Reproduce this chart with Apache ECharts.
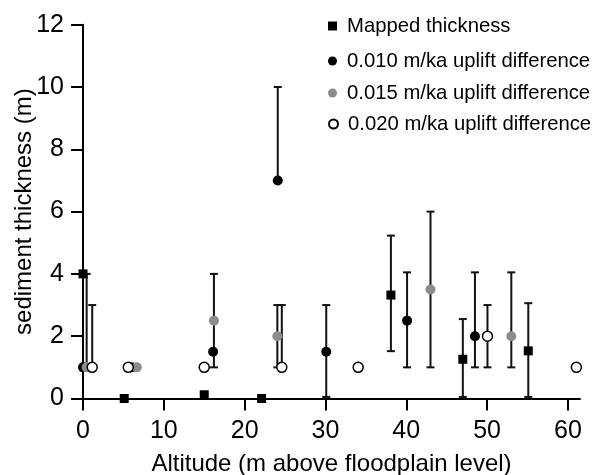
<!DOCTYPE html>
<html>
<head>
<meta charset="utf-8">
<script src="https://cdn.jsdelivr.net/npm/echarts@6/dist/echarts.min.js"></script>
<style>
  html, body { margin: 0; padding: 0; background: #fff; }
  #chart { width: 602px; height: 475px; }
</style>
</head>
<body>
<div id="chart"></div>
<script>
const FONT = '"Liberation Sans", Arial, sans-serif'

const xTicks = [0, 10, 20, 30, 40, 50, 60]
const seriesNames = [
  'Mapped thickness',
  '0.010 m/ka uplift difference',
  '0.015 m/ka uplift difference',
  '0.020 m/ka uplift difference',
]

// points: [altitude, thickness]
const mapped = [[0, 4], [5.1, 0], [15, 0.12], [22.1, 0], [38.1, 3.32], [47, 1.26], [55.1, 1.53]]
const uplift010 = [[0, 1], [6, 1], [16.1, 1.5], [24.1, 7], [30.1, 1.5], [40.1, 2.5], [48.5, 2]]
const uplift015 = [[0.45, 1], [6.66, 1], [16.2, 2.5], [24.05, 2], [43, 3.5], [53, 2]]
const uplift020 = [[1.14, 1], [5.6, 1], [15, 1], [24.6, 1], [34.05, 1], [50.05, 2], [61.05, 1]]

// error ranges: [altitude, low, high]
const mappedErr = [[38.1, 1.52, 5.23], [47, 0.05, 2.55], [55.1, 0.05, 3.06]]
const uplift010Err = [[24.1, 7, 10], [30.1, 0.05, 3], [40.1, 1, 4.05], [48.5, 1, 4.05]]
const uplift015Err = [[0.45, 1, 4], [16.2, 1, 4], [24.05, 1, 3], [43, 1, 6], [53, 1, 4.05]]
const uplift020Err = [[1.14, 1, 3], [24.6, 1, 3], [50.05, 1, 3]]

const pointData = [mapped, uplift010, uplift015, uplift020]
const errData = [mappedErr, uplift010Err, uplift015Err, uplift020Err]
const symbols = ['rect', 'circle', 'circle', 'circle']
const symbolSizes = [9, 10, 10, 10]
const fills = ['#000', '#000', '#8c8c8c', '#fff']
const borders = ['#000', '#000', '#8c8c8c', '#000']

const legendTops = [16, 51, 83, 114]

function errorBar(params, api) {
  const x = api.value(0)
  const lo = api.coord([x, api.value(1)])
  const hi = api.coord([x, api.value(2)])
  const cap = 4
  const style = { stroke: '#111', lineWidth: 2 }
  return {
    type: 'group',
    children: [
      { type: 'line', shape: { x1: lo[0], y1: lo[1], x2: hi[0], y2: hi[1] }, style },
      { type: 'line', shape: { x1: hi[0] - cap, y1: hi[1], x2: hi[0] + cap, y2: hi[1] }, style },
      { type: 'line', shape: { x1: lo[0] - cap, y1: lo[1], x2: lo[0] + cap, y2: lo[1] }, style },
    ],
  }
}

const axisLine = { show: true, lineStyle: { color: '#000', width: 2 } }
const axisTick = { show: true, inside: false, length: 12, lineStyle: { color: '#000', width: 2 } }

const chart = echarts.init(document.getElementById('chart'))

const series = []
errData.forEach((d) => {
  series.push({
    type: 'custom',
    renderItem: errorBar,
    data: d,
    encode: { x: 0, y: [1, 2] },
    z: 1,
    silent: true,
  })
})
pointData.forEach((d, i) => {
  series.push({
    name: seriesNames[i],
    type: 'scatter',
    data: d,
    symbol: symbols[i],
    symbolSize: symbolSizes[i],
    itemStyle: { color: fills[i], borderColor: borders[i], borderWidth: i === 3 ? 1.5 : 0, opacity: 1 },
    z: 2,
  })
})

chart.setOption({
  animation: false,
  backgroundColor: '#fff',
  grid: { left: 83, right: 22, top: 24.7, bottom: 76.5, containLabel: false, outerBoundsMode: 'none' },
  legend: seriesNames.map((name, i) => ({
    data: [name],
    orient: 'vertical',
    left: 328,
    top: legendTops[i],
    padding: 0,
    itemWidth: 9,
    itemHeight: 9,
    selectedMode: false,
    textStyle: { fontSize: 20.3, color: '#000', fontFamily: FONT, lineHeight: 20, padding: [0, 0, 0, 5] },
  })),
  xAxis: {
    type: 'value',
    min: 0,
    max: 61.5,
    name: 'Altitude (m above floodplain level)',
    nameLocation: 'middle',
    nameGap: 54,
    nameMoveOverlap: false,
    nameTextStyle: { fontSize: 24, color: '#000', fontFamily: FONT },
    axisLine,
    axisTick: { ...axisTick, customValues: xTicks },
    axisLabel: { customValues: xTicks, fontSize: 25, color: '#000', fontFamily: FONT, margin: 20 },
    splitLine: { show: false },
  },
  yAxis: {
    type: 'value',
    min: 0,
    max: 12,
    interval: 2,
    name: 'sediment thickness (m)',
    nameLocation: 'middle',
    nameRotate: 90,
    nameGap: 47,
    nameMoveOverlap: false,
    nameTextStyle: { fontSize: 24, color: '#000', fontFamily: FONT },
    axisLine,
    axisTick,
    axisLabel: { fontSize: 25, color: '#000', fontFamily: FONT, margin: 19 },
    splitLine: { show: false },
  },
  series,
})
</script>
</body>
</html>
